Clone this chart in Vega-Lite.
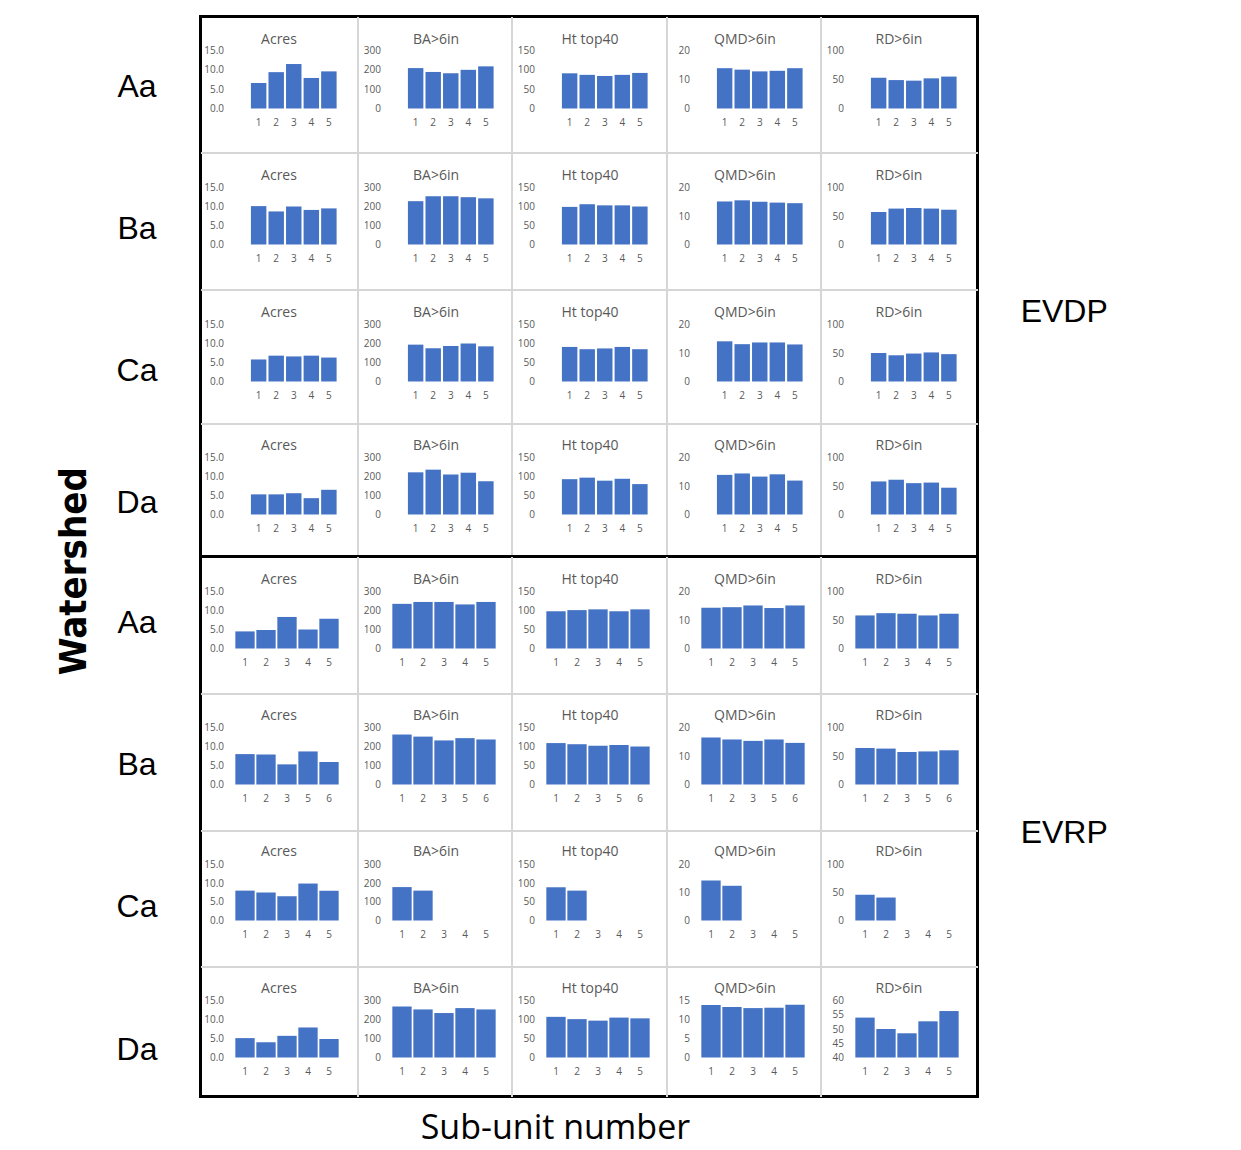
{
"$schema":"https://vega.github.io/schema/vega-lite/v6.json",
"padding":{"left":55.5,"top":11.5,"right":10,"bottom":3.5},
"datasets":{"d":[
{"g":"EVDP","w":"Aa","u":"1","Acres":6.6,"BA":209,"Ht":91,"QMD":13.9,"RD":53},
{"g":"EVDP","w":"Aa","u":"2","Acres":9.4,"BA":189,"Ht":87,"QMD":13.4,"RD":49},
{"g":"EVDP","w":"Aa","u":"3","Acres":11.5,"BA":182,"Ht":84,"QMD":12.8,"RD":48},
{"g":"EVDP","w":"Aa","u":"4","Acres":7.9,"BA":200,"Ht":87,"QMD":13.0,"RD":52},
{"g":"EVDP","w":"Aa","u":"5","Acres":9.6,"BA":218,"Ht":92,"QMD":13.9,"RD":55},
{"g":"EVDP","w":"Ba","u":"1","Acres":10.1,"BA":228,"Ht":99,"QMD":15.1,"RD":57},
{"g":"EVDP","w":"Ba","u":"2","Acres":8.7,"BA":254,"Ht":106,"QMD":15.5,"RD":63},
{"g":"EVDP","w":"Ba","u":"3","Acres":10.0,"BA":254,"Ht":103,"QMD":15.0,"RD":64},
{"g":"EVDP","w":"Ba","u":"4","Acres":9.1,"BA":249,"Ht":103,"QMD":14.7,"RD":63},
{"g":"EVDP","w":"Ba","u":"5","Acres":9.5,"BA":243,"Ht":100,"QMD":14.5,"RD":61},
{"g":"EVDP","w":"Ca","u":"1","Acres":5.8,"BA":194,"Ht":91,"QMD":14.1,"RD":50},
{"g":"EVDP","w":"Ca","u":"2","Acres":6.8,"BA":175,"Ht":85,"QMD":13.1,"RD":46},
{"g":"EVDP","w":"Ca","u":"3","Acres":6.6,"BA":187,"Ht":87,"QMD":13.7,"RD":49},
{"g":"EVDP","w":"Ca","u":"4","Acres":6.8,"BA":200,"Ht":91,"QMD":13.7,"RD":51},
{"g":"EVDP","w":"Ca","u":"5","Acres":6.3,"BA":185,"Ht":85,"QMD":13.0,"RD":48},
{"g":"EVDP","w":"Da","u":"1","Acres":5.3,"BA":222,"Ht":93,"QMD":13.9,"RD":58},
{"g":"EVDP","w":"Da","u":"2","Acres":5.3,"BA":236,"Ht":97,"QMD":14.4,"RD":61},
{"g":"EVDP","w":"Da","u":"3","Acres":5.6,"BA":210,"Ht":89,"QMD":13.3,"RD":55},
{"g":"EVDP","w":"Da","u":"4","Acres":4.3,"BA":220,"Ht":94,"QMD":14.1,"RD":56},
{"g":"EVDP","w":"Da","u":"5","Acres":6.5,"BA":175,"Ht":80,"QMD":11.9,"RD":47},
{"g":"EVRP","w":"Aa","u":"1","Acres":4.5,"BA":235,"Ht":98,"QMD":14.3,"RD":58},
{"g":"EVRP","w":"Aa","u":"2","Acres":4.9,"BA":245,"Ht":101,"QMD":14.5,"RD":62},
{"g":"EVRP","w":"Aa","u":"3","Acres":8.3,"BA":245,"Ht":103,"QMD":15.1,"RD":61},
{"g":"EVRP","w":"Aa","u":"4","Acres":5.0,"BA":232,"Ht":98,"QMD":14.2,"RD":58},
{"g":"EVRP","w":"Aa","u":"5","Acres":7.8,"BA":245,"Ht":103,"QMD":15.1,"RD":61},
{"g":"EVRP","w":"Ba","u":"1","Acres":8.0,"BA":263,"Ht":109,"QMD":16.5,"RD":64},
{"g":"EVRP","w":"Ba","u":"2","Acres":7.9,"BA":252,"Ht":106,"QMD":15.8,"RD":63},
{"g":"EVRP","w":"Ba","u":"3","Acres":5.3,"BA":232,"Ht":102,"QMD":15.3,"RD":57},
{"g":"EVRP","w":"Ba","u":"5","Acres":8.7,"BA":244,"Ht":104,"QMD":15.8,"RD":58},
{"g":"EVRP","w":"Ba","u":"6","Acres":5.9,"BA":237,"Ht":100,"QMD":14.6,"RD":60},
{"g":"EVRP","w":"Ca","u":"1","Acres":8.0,"BA":179,"Ht":89,"QMD":14.3,"RD":46},
{"g":"EVRP","w":"Ca","u":"2","Acres":7.5,"BA":160,"Ht":80,"QMD":12.4,"RD":41},
{"g":"EVRP","w":"Ca","u":"3","Acres":6.5,"BA":null,"Ht":null,"QMD":null,"RD":null},
{"g":"EVRP","w":"Ca","u":"4","Acres":9.9,"BA":null,"Ht":null,"QMD":null,"RD":null},
{"g":"EVRP","w":"Ca","u":"5","Acres":8.0,"BA":null,"Ht":null,"QMD":null,"RD":null},
{"g":"EVRP","w":"Da","u":"1","Acres":5.1,"BA":268,"Ht":107,"QMD":13.8,"RD":54.0},
{"g":"EVRP","w":"Da","u":"2","Acres":4.0,"BA":253,"Ht":101,"QMD":13.3,"RD":50.0},
{"g":"EVRP","w":"Da","u":"3","Acres":5.7,"BA":234,"Ht":97,"QMD":13.0,"RD":48.5},
{"g":"EVRP","w":"Da","u":"4","Acres":7.9,"BA":260,"Ht":105,"QMD":13.1,"RD":52.7},
{"g":"EVRP","w":"Da","u":"5","Acres":4.9,"BA":253,"Ht":103,"QMD":13.9,"RD":56.3}
]},
"data":{"name":"d"},
"title":{"text":"Sub-unit number","orient":"bottom","anchor":"middle","offset":14,"dx":-27,"font":"Open Sans","fontSize":34,"fontWeight":"normal","color":"#000"},
"vconcat":[{
"title":{"text":"Watershed","orient":"left","anchor":"middle","offset":21,"dx":-16,"font":"Liberation Sans Narrow, DejaVu Sans Condensed, sans-serif","fontSize":38,"fontWeight":"bold","color":"#000"},
"spacing":0,"bounds":"flush",
"vconcat":[
{"width":777,"height":540,
"title":{"text":"EVDP","orient":"right","anchor":"middle","angle":0,"align":"left","baseline":"middle","offset":48,"dx":-92,"dy":25,"font":"Liberation Sans","fontSize":32,"fontWeight":"normal","color":"#000"},
"resolve":{"scale":{"x":"independent","y":"independent"},"axis":{"x":"independent","y":"independent"}},
"layer":[
{"mark":{"type":"point","opacity":0},"encoding":{"x":{"datum":0,"type":"quantitative","scale":{"domain":[0,777],"range":[0,777],"nice":false,"zero":false},"axis":{"orient":"top","values":[157,311,466,620],"grid":true,"gridColor":"#d6d6d6","gridWidth":2,"labels":false,"title":null}},"y":{"datum":0,"type":"quantitative","scale":{"domain":[0,540],"range":[0,540],"nice":false,"zero":false},"axis":{"orient":"right","values":[136,273,407],"grid":true,"gridColor":"#d6d6d6","gridWidth":2,"labels":false,"title":null}}}},

{"transform":[{"filter":"datum.g==='EVDP'&&datum.w==='Aa'"}],"mark":"bar","encoding":{"x":{"field":"u","type":"ordinal","scale":{"domain":["1","2","3","4","5"],"range":[34,139],"paddingInner":0.12,"paddingOuter":0.55,"align":0.85},"axis":{"orient":"bottom","offset":-448,"title":"Acres","titleX":78}},"y":{"field":"Acres","type":"quantitative","scale":{"domain":[0,15],"range":[92,34],"nice":false},"axis":{"orient":"left","offset":-34,"values":[0,5,10,15],"format":".1f","title":"Aa","titleY":70}}}},
{"transform":[{"filter":"datum.g==='EVDP'&&datum.w==='Aa'"}],"mark":"bar","encoding":{"x":{"field":"u","type":"ordinal","scale":{"domain":["1","2","3","4","5"],"range":[191,296],"paddingInner":0.12,"paddingOuter":0.55,"align":0.85},"axis":{"orient":"bottom","offset":-448,"title":"BA>6in","titleX":235}},"y":{"field":"BA","type":"quantitative","scale":{"domain":[0,300],"range":[92,34],"nice":false},"axis":{"orient":"left","offset":-191,"values":[0,100,200,300],"title":null}}}},
{"transform":[{"filter":"datum.g==='EVDP'&&datum.w==='Aa'"}],"mark":"bar","encoding":{"x":{"field":"u","type":"ordinal","scale":{"domain":["1","2","3","4","5"],"range":[345,450],"paddingInner":0.12,"paddingOuter":0.55,"align":0.85},"axis":{"orient":"bottom","offset":-448,"title":"Ht top40","titleX":389}},"y":{"field":"Ht","type":"quantitative","scale":{"domain":[0,150],"range":[92,34],"nice":false},"axis":{"orient":"left","offset":-345,"values":[0,50,100,150],"title":null}}}},
{"transform":[{"filter":"datum.g==='EVDP'&&datum.w==='Aa'"}],"mark":"bar","encoding":{"x":{"field":"u","type":"ordinal","scale":{"domain":["1","2","3","4","5"],"range":[500,605],"paddingInner":0.12,"paddingOuter":0.55,"align":0.85},"axis":{"orient":"bottom","offset":-448,"title":"QMD>6in","titleX":544}},"y":{"field":"QMD","type":"quantitative","scale":{"domain":[0,20],"range":[92,34],"nice":false},"axis":{"orient":"left","offset":-500,"values":[0,10,20],"title":null}}}},
{"transform":[{"filter":"datum.g==='EVDP'&&datum.w==='Aa'"}],"mark":"bar","encoding":{"x":{"field":"u","type":"ordinal","scale":{"domain":["1","2","3","4","5"],"range":[654,759],"paddingInner":0.12,"paddingOuter":0.55,"align":0.85},"axis":{"orient":"bottom","offset":-448,"title":"RD>6in","titleX":698}},"y":{"field":"RD","type":"quantitative","scale":{"domain":[0,100],"range":[92,34],"nice":false},"axis":{"orient":"left","offset":-654,"values":[0,50,100],"title":null}}}},

{"transform":[{"filter":"datum.g==='EVDP'&&datum.w==='Ba'"}],"mark":"bar","encoding":{"x":{"field":"u","type":"ordinal","scale":{"domain":["1","2","3","4","5"],"range":[34,139],"paddingInner":0.12,"paddingOuter":0.55,"align":0.85},"axis":{"orient":"bottom","offset":-312,"title":"Acres","titleX":78}},"y":{"field":"Acres","type":"quantitative","scale":{"domain":[0,15],"range":[228,171],"nice":false},"axis":{"orient":"left","offset":-34,"values":[0,5,10,15],"format":".1f","title":"Ba","titleY":212}}}},
{"transform":[{"filter":"datum.g==='EVDP'&&datum.w==='Ba'"}],"mark":"bar","encoding":{"x":{"field":"u","type":"ordinal","scale":{"domain":["1","2","3","4","5"],"range":[191,296],"paddingInner":0.12,"paddingOuter":0.55,"align":0.85},"axis":{"orient":"bottom","offset":-312,"title":"BA>6in","titleX":235}},"y":{"field":"BA","type":"quantitative","scale":{"domain":[0,300],"range":[228,171],"nice":false},"axis":{"orient":"left","offset":-191,"values":[0,100,200,300],"title":null}}}},
{"transform":[{"filter":"datum.g==='EVDP'&&datum.w==='Ba'"}],"mark":"bar","encoding":{"x":{"field":"u","type":"ordinal","scale":{"domain":["1","2","3","4","5"],"range":[345,450],"paddingInner":0.12,"paddingOuter":0.55,"align":0.85},"axis":{"orient":"bottom","offset":-312,"title":"Ht top40","titleX":389}},"y":{"field":"Ht","type":"quantitative","scale":{"domain":[0,150],"range":[228,171],"nice":false},"axis":{"orient":"left","offset":-345,"values":[0,50,100,150],"title":null}}}},
{"transform":[{"filter":"datum.g==='EVDP'&&datum.w==='Ba'"}],"mark":"bar","encoding":{"x":{"field":"u","type":"ordinal","scale":{"domain":["1","2","3","4","5"],"range":[500,605],"paddingInner":0.12,"paddingOuter":0.55,"align":0.85},"axis":{"orient":"bottom","offset":-312,"title":"QMD>6in","titleX":544}},"y":{"field":"QMD","type":"quantitative","scale":{"domain":[0,20],"range":[228,171],"nice":false},"axis":{"orient":"left","offset":-500,"values":[0,10,20],"title":null}}}},
{"transform":[{"filter":"datum.g==='EVDP'&&datum.w==='Ba'"}],"mark":"bar","encoding":{"x":{"field":"u","type":"ordinal","scale":{"domain":["1","2","3","4","5"],"range":[654,759],"paddingInner":0.12,"paddingOuter":0.55,"align":0.85},"axis":{"orient":"bottom","offset":-312,"title":"RD>6in","titleX":698}},"y":{"field":"RD","type":"quantitative","scale":{"domain":[0,100],"range":[228,171],"nice":false},"axis":{"orient":"left","offset":-654,"values":[0,50,100],"title":null}}}},

{"transform":[{"filter":"datum.g==='EVDP'&&datum.w==='Ca'"}],"mark":"bar","encoding":{"x":{"field":"u","type":"ordinal","scale":{"domain":["1","2","3","4","5"],"range":[34,139],"paddingInner":0.12,"paddingOuter":0.55,"align":0.85},"axis":{"orient":"bottom","offset":-175,"title":"Acres","titleX":78}},"y":{"field":"Acres","type":"quantitative","scale":{"domain":[0,15],"range":[365,308],"nice":false},"axis":{"orient":"left","offset":-34,"values":[0,5,10,15],"format":".1f","title":"Ca","titleY":354}}}},
{"transform":[{"filter":"datum.g==='EVDP'&&datum.w==='Ca'"}],"mark":"bar","encoding":{"x":{"field":"u","type":"ordinal","scale":{"domain":["1","2","3","4","5"],"range":[191,296],"paddingInner":0.12,"paddingOuter":0.55,"align":0.85},"axis":{"orient":"bottom","offset":-175,"title":"BA>6in","titleX":235}},"y":{"field":"BA","type":"quantitative","scale":{"domain":[0,300],"range":[365,308],"nice":false},"axis":{"orient":"left","offset":-191,"values":[0,100,200,300],"title":null}}}},
{"transform":[{"filter":"datum.g==='EVDP'&&datum.w==='Ca'"}],"mark":"bar","encoding":{"x":{"field":"u","type":"ordinal","scale":{"domain":["1","2","3","4","5"],"range":[345,450],"paddingInner":0.12,"paddingOuter":0.55,"align":0.85},"axis":{"orient":"bottom","offset":-175,"title":"Ht top40","titleX":389}},"y":{"field":"Ht","type":"quantitative","scale":{"domain":[0,150],"range":[365,308],"nice":false},"axis":{"orient":"left","offset":-345,"values":[0,50,100,150],"title":null}}}},
{"transform":[{"filter":"datum.g==='EVDP'&&datum.w==='Ca'"}],"mark":"bar","encoding":{"x":{"field":"u","type":"ordinal","scale":{"domain":["1","2","3","4","5"],"range":[500,605],"paddingInner":0.12,"paddingOuter":0.55,"align":0.85},"axis":{"orient":"bottom","offset":-175,"title":"QMD>6in","titleX":544}},"y":{"field":"QMD","type":"quantitative","scale":{"domain":[0,20],"range":[365,308],"nice":false},"axis":{"orient":"left","offset":-500,"values":[0,10,20],"title":null}}}},
{"transform":[{"filter":"datum.g==='EVDP'&&datum.w==='Ca'"}],"mark":"bar","encoding":{"x":{"field":"u","type":"ordinal","scale":{"domain":["1","2","3","4","5"],"range":[654,759],"paddingInner":0.12,"paddingOuter":0.55,"align":0.85},"axis":{"orient":"bottom","offset":-175,"title":"RD>6in","titleX":698}},"y":{"field":"RD","type":"quantitative","scale":{"domain":[0,100],"range":[365,308],"nice":false},"axis":{"orient":"left","offset":-654,"values":[0,50,100],"title":null}}}},

{"transform":[{"filter":"datum.g==='EVDP'&&datum.w==='Da'"}],"mark":"bar","encoding":{"x":{"field":"u","type":"ordinal","scale":{"domain":["1","2","3","4","5"],"range":[34,139],"paddingInner":0.12,"paddingOuter":0.55,"align":0.85},"axis":{"orient":"bottom","offset":-42,"title":"Acres","titleX":78}},"y":{"field":"Acres","type":"quantitative","scale":{"domain":[0,15],"range":[498,441],"nice":false},"axis":{"orient":"left","offset":-34,"values":[0,5,10,15],"format":".1f","title":"Da","titleY":486}}}},
{"transform":[{"filter":"datum.g==='EVDP'&&datum.w==='Da'"}],"mark":"bar","encoding":{"x":{"field":"u","type":"ordinal","scale":{"domain":["1","2","3","4","5"],"range":[191,296],"paddingInner":0.12,"paddingOuter":0.55,"align":0.85},"axis":{"orient":"bottom","offset":-42,"title":"BA>6in","titleX":235}},"y":{"field":"BA","type":"quantitative","scale":{"domain":[0,300],"range":[498,441],"nice":false},"axis":{"orient":"left","offset":-191,"values":[0,100,200,300],"title":null}}}},
{"transform":[{"filter":"datum.g==='EVDP'&&datum.w==='Da'"}],"mark":"bar","encoding":{"x":{"field":"u","type":"ordinal","scale":{"domain":["1","2","3","4","5"],"range":[345,450],"paddingInner":0.12,"paddingOuter":0.55,"align":0.85},"axis":{"orient":"bottom","offset":-42,"title":"Ht top40","titleX":389}},"y":{"field":"Ht","type":"quantitative","scale":{"domain":[0,150],"range":[498,441],"nice":false},"axis":{"orient":"left","offset":-345,"values":[0,50,100,150],"title":null}}}},
{"transform":[{"filter":"datum.g==='EVDP'&&datum.w==='Da'"}],"mark":"bar","encoding":{"x":{"field":"u","type":"ordinal","scale":{"domain":["1","2","3","4","5"],"range":[500,605],"paddingInner":0.12,"paddingOuter":0.55,"align":0.85},"axis":{"orient":"bottom","offset":-42,"title":"QMD>6in","titleX":544}},"y":{"field":"QMD","type":"quantitative","scale":{"domain":[0,20],"range":[498,441],"nice":false},"axis":{"orient":"left","offset":-500,"values":[0,10,20],"title":null}}}},
{"transform":[{"filter":"datum.g==='EVDP'&&datum.w==='Da'"}],"mark":"bar","encoding":{"x":{"field":"u","type":"ordinal","scale":{"domain":["1","2","3","4","5"],"range":[654,759],"paddingInner":0.12,"paddingOuter":0.55,"align":0.85},"axis":{"orient":"bottom","offset":-42,"title":"RD>6in","titleX":698}},"y":{"field":"RD","type":"quantitative","scale":{"domain":[0,100],"range":[498,441],"nice":false},"axis":{"orient":"left","offset":-654,"values":[0,50,100],"title":null}}}}
]},
{"width":777,"height":540,
"title":{"text":"EVRP","orient":"right","anchor":"middle","angle":0,"align":"left","baseline":"middle","offset":48,"dx":-92,"dy":6,"font":"Liberation Sans","fontSize":32,"fontWeight":"normal","color":"#000"},
"resolve":{"scale":{"x":"independent","y":"independent"},"axis":{"x":"independent","y":"independent"}},
"layer":[
{"mark":{"type":"point","opacity":0},"encoding":{"x":{"datum":0,"type":"quantitative","scale":{"domain":[0,777],"range":[0,777],"nice":false,"zero":false},"axis":{"orient":"top","values":[157,311,466,620],"grid":true,"gridColor":"#d6d6d6","gridWidth":2,"labels":false,"title":null}},"y":{"datum":0,"type":"quantitative","scale":{"domain":[0,540],"range":[0,540],"nice":false,"zero":false},"axis":{"orient":"right","values":[137,274,410],"grid":true,"gridColor":"#d6d6d6","gridWidth":2,"labels":false,"title":null}}}},

{"transform":[{"filter":"datum.g==='EVRP'&&datum.w==='Aa'"}],"mark":"bar","encoding":{"x":{"field":"u","type":"ordinal","scale":{"domain":["1","2","3","4","5"],"range":[34,139],"paddingInner":0.08,"paddingOuter":0.04},"axis":{"orient":"bottom","offset":-448,"title":"Acres","titleX":78}},"y":{"field":"Acres","type":"quantitative","scale":{"domain":[0,15],"range":[92,35],"nice":false},"axis":{"orient":"left","offset":-34,"values":[0,5,10,15],"format":".1f","title":"Aa","titleY":66}}}},
{"transform":[{"filter":"datum.g==='EVRP'&&datum.w==='Aa'"}],"mark":"bar","encoding":{"x":{"field":"u","type":"ordinal","scale":{"domain":["1","2","3","4","5"],"range":[191,296],"paddingInner":0.08,"paddingOuter":0.04},"axis":{"orient":"bottom","offset":-448,"title":"BA>6in","titleX":235}},"y":{"field":"BA","type":"quantitative","scale":{"domain":[0,300],"range":[92,35],"nice":false},"axis":{"orient":"left","offset":-191,"values":[0,100,200,300],"title":null}}}},
{"transform":[{"filter":"datum.g==='EVRP'&&datum.w==='Aa'"}],"mark":"bar","encoding":{"x":{"field":"u","type":"ordinal","scale":{"domain":["1","2","3","4","5"],"range":[345,450],"paddingInner":0.08,"paddingOuter":0.04},"axis":{"orient":"bottom","offset":-448,"title":"Ht top40","titleX":389}},"y":{"field":"Ht","type":"quantitative","scale":{"domain":[0,150],"range":[92,35],"nice":false},"axis":{"orient":"left","offset":-345,"values":[0,50,100,150],"title":null}}}},
{"transform":[{"filter":"datum.g==='EVRP'&&datum.w==='Aa'"}],"mark":"bar","encoding":{"x":{"field":"u","type":"ordinal","scale":{"domain":["1","2","3","4","5"],"range":[500,605],"paddingInner":0.08,"paddingOuter":0.04},"axis":{"orient":"bottom","offset":-448,"title":"QMD>6in","titleX":544}},"y":{"field":"QMD","type":"quantitative","scale":{"domain":[0,20],"range":[92,35],"nice":false},"axis":{"orient":"left","offset":-500,"values":[0,10,20],"title":null}}}},
{"transform":[{"filter":"datum.g==='EVRP'&&datum.w==='Aa'"}],"mark":"bar","encoding":{"x":{"field":"u","type":"ordinal","scale":{"domain":["1","2","3","4","5"],"range":[654,759],"paddingInner":0.08,"paddingOuter":0.04},"axis":{"orient":"bottom","offset":-448,"title":"RD>6in","titleX":698}},"y":{"field":"RD","type":"quantitative","scale":{"domain":[0,100],"range":[92,35],"nice":false},"axis":{"orient":"left","offset":-654,"values":[0,50,100],"title":null}}}},

{"transform":[{"filter":"datum.g==='EVRP'&&datum.w==='Ba'"}],"mark":"bar","encoding":{"x":{"field":"u","type":"ordinal","scale":{"domain":["1","2","3","5","6"],"range":[34,139],"paddingInner":0.08,"paddingOuter":0.04},"axis":{"orient":"bottom","offset":-312,"title":"Acres","titleX":78}},"y":{"field":"Acres","type":"quantitative","scale":{"domain":[0,15],"range":[228,171],"nice":false},"axis":{"orient":"left","offset":-34,"values":[0,5,10,15],"format":".1f","title":"Ba","titleY":208}}}},
{"transform":[{"filter":"datum.g==='EVRP'&&datum.w==='Ba'"}],"mark":"bar","encoding":{"x":{"field":"u","type":"ordinal","scale":{"domain":["1","2","3","5","6"],"range":[191,296],"paddingInner":0.08,"paddingOuter":0.04},"axis":{"orient":"bottom","offset":-312,"title":"BA>6in","titleX":235}},"y":{"field":"BA","type":"quantitative","scale":{"domain":[0,300],"range":[228,171],"nice":false},"axis":{"orient":"left","offset":-191,"values":[0,100,200,300],"title":null}}}},
{"transform":[{"filter":"datum.g==='EVRP'&&datum.w==='Ba'"}],"mark":"bar","encoding":{"x":{"field":"u","type":"ordinal","scale":{"domain":["1","2","3","5","6"],"range":[345,450],"paddingInner":0.08,"paddingOuter":0.04},"axis":{"orient":"bottom","offset":-312,"title":"Ht top40","titleX":389}},"y":{"field":"Ht","type":"quantitative","scale":{"domain":[0,150],"range":[228,171],"nice":false},"axis":{"orient":"left","offset":-345,"values":[0,50,100,150],"title":null}}}},
{"transform":[{"filter":"datum.g==='EVRP'&&datum.w==='Ba'"}],"mark":"bar","encoding":{"x":{"field":"u","type":"ordinal","scale":{"domain":["1","2","3","5","6"],"range":[500,605],"paddingInner":0.08,"paddingOuter":0.04},"axis":{"orient":"bottom","offset":-312,"title":"QMD>6in","titleX":544}},"y":{"field":"QMD","type":"quantitative","scale":{"domain":[0,20],"range":[228,171],"nice":false},"axis":{"orient":"left","offset":-500,"values":[0,10,20],"title":null}}}},
{"transform":[{"filter":"datum.g==='EVRP'&&datum.w==='Ba'"}],"mark":"bar","encoding":{"x":{"field":"u","type":"ordinal","scale":{"domain":["1","2","3","5","6"],"range":[654,759],"paddingInner":0.08,"paddingOuter":0.04},"axis":{"orient":"bottom","offset":-312,"title":"RD>6in","titleX":698}},"y":{"field":"RD","type":"quantitative","scale":{"domain":[0,100],"range":[228,171],"nice":false},"axis":{"orient":"left","offset":-654,"values":[0,50,100],"title":null}}}},

{"transform":[{"filter":"datum.g==='EVRP'&&datum.w==='Ca'"}],"mark":"bar","encoding":{"x":{"field":"u","type":"ordinal","scale":{"domain":["1","2","3","4","5"],"range":[34,139],"paddingInner":0.08,"paddingOuter":0.04},"axis":{"orient":"bottom","offset":-176,"title":"Acres","titleX":78}},"y":{"field":"Acres","type":"quantitative","scale":{"domain":[0,15],"range":[364,308],"nice":false},"axis":{"orient":"left","offset":-34,"values":[0,5,10,15],"format":".1f","title":"Ca","titleY":350}}}},
{"transform":[{"filter":"datum.g==='EVRP'&&datum.w==='Ca'"}],"mark":"bar","encoding":{"x":{"field":"u","type":"ordinal","scale":{"domain":["1","2","3","4","5"],"range":[191,296],"paddingInner":0.08,"paddingOuter":0.04},"axis":{"orient":"bottom","offset":-176,"title":"BA>6in","titleX":235}},"y":{"field":"BA","type":"quantitative","scale":{"domain":[0,300],"range":[364,308],"nice":false},"axis":{"orient":"left","offset":-191,"values":[0,100,200,300],"title":null}}}},
{"transform":[{"filter":"datum.g==='EVRP'&&datum.w==='Ca'"}],"mark":"bar","encoding":{"x":{"field":"u","type":"ordinal","scale":{"domain":["1","2","3","4","5"],"range":[345,450],"paddingInner":0.08,"paddingOuter":0.04},"axis":{"orient":"bottom","offset":-176,"title":"Ht top40","titleX":389}},"y":{"field":"Ht","type":"quantitative","scale":{"domain":[0,150],"range":[364,308],"nice":false},"axis":{"orient":"left","offset":-345,"values":[0,50,100,150],"title":null}}}},
{"transform":[{"filter":"datum.g==='EVRP'&&datum.w==='Ca'"}],"mark":"bar","encoding":{"x":{"field":"u","type":"ordinal","scale":{"domain":["1","2","3","4","5"],"range":[500,605],"paddingInner":0.08,"paddingOuter":0.04},"axis":{"orient":"bottom","offset":-176,"title":"QMD>6in","titleX":544}},"y":{"field":"QMD","type":"quantitative","scale":{"domain":[0,20],"range":[364,308],"nice":false},"axis":{"orient":"left","offset":-500,"values":[0,10,20],"title":null}}}},
{"transform":[{"filter":"datum.g==='EVRP'&&datum.w==='Ca'"}],"mark":"bar","encoding":{"x":{"field":"u","type":"ordinal","scale":{"domain":["1","2","3","4","5"],"range":[654,759],"paddingInner":0.08,"paddingOuter":0.04},"axis":{"orient":"bottom","offset":-176,"title":"RD>6in","titleX":698}},"y":{"field":"RD","type":"quantitative","scale":{"domain":[0,100],"range":[364,308],"nice":false},"axis":{"orient":"left","offset":-654,"values":[0,50,100],"title":null}}}},

{"transform":[{"filter":"datum.g==='EVRP'&&datum.w==='Da'"}],"mark":"bar","encoding":{"x":{"field":"u","type":"ordinal","scale":{"domain":["1","2","3","4","5"],"range":[34,139],"paddingInner":0.08,"paddingOuter":0.04},"axis":{"orient":"bottom","offset":-39,"title":"Acres","titleX":78}},"y":{"field":"Acres","type":"quantitative","scale":{"domain":[0,15],"range":[501,444],"nice":false},"axis":{"orient":"left","offset":-34,"values":[0,5,10,15],"format":".1f","title":"Da","titleY":493}}}},
{"transform":[{"filter":"datum.g==='EVRP'&&datum.w==='Da'"}],"mark":"bar","encoding":{"x":{"field":"u","type":"ordinal","scale":{"domain":["1","2","3","4","5"],"range":[191,296],"paddingInner":0.08,"paddingOuter":0.04},"axis":{"orient":"bottom","offset":-39,"title":"BA>6in","titleX":235}},"y":{"field":"BA","type":"quantitative","scale":{"domain":[0,300],"range":[501,444],"nice":false},"axis":{"orient":"left","offset":-191,"values":[0,100,200,300],"title":null}}}},
{"transform":[{"filter":"datum.g==='EVRP'&&datum.w==='Da'"}],"mark":"bar","encoding":{"x":{"field":"u","type":"ordinal","scale":{"domain":["1","2","3","4","5"],"range":[345,450],"paddingInner":0.08,"paddingOuter":0.04},"axis":{"orient":"bottom","offset":-39,"title":"Ht top40","titleX":389}},"y":{"field":"Ht","type":"quantitative","scale":{"domain":[0,150],"range":[501,444],"nice":false},"axis":{"orient":"left","offset":-345,"values":[0,50,100,150],"title":null}}}},
{"transform":[{"filter":"datum.g==='EVRP'&&datum.w==='Da'"}],"mark":"bar","encoding":{"x":{"field":"u","type":"ordinal","scale":{"domain":["1","2","3","4","5"],"range":[500,605],"paddingInner":0.08,"paddingOuter":0.04},"axis":{"orient":"bottom","offset":-39,"title":"QMD>6in","titleX":544}},"y":{"field":"QMD","type":"quantitative","scale":{"domain":[0,15],"range":[501,444],"nice":false},"axis":{"orient":"left","offset":-500,"values":[0,5,10,15],"title":null}}}},
{"transform":[{"filter":"datum.g==='EVRP'&&datum.w==='Da'"}],"mark":"bar","encoding":{"x":{"field":"u","type":"ordinal","scale":{"domain":["1","2","3","4","5"],"range":[654,759],"paddingInner":0.08,"paddingOuter":0.04},"axis":{"orient":"bottom","offset":-39,"title":"RD>6in","titleX":698}},"y":{"field":"RD","type":"quantitative","scale":{"domain":[40,60],"range":[501,444],"nice":false,"zero":false,"clamp":true},"axis":{"orient":"left","offset":-654,"values":[40,45,50,55,60],"title":null}},"y2":{"datum":40}}}
]}
]}],
"config":{
"view":{"stroke":"#000","strokeWidth":3},
"font":"Open Sans",
"bar":{"color":"#4472C4"},
"axis":{"labelFont":"Open Sans","labelFontSize":10,"labelColor":"#595959","ticks":false,"tickSize":0,"domain":false,"gridColor":"#d9d9d9","gridWidth":1,"labelOverlap":false},
"axisX":{"labelPadding":9,"labelAngle":0,"titleY":-69,"titleBaseline":"middle","titleAlign":"center","titleFont":"Open Sans","titleFontSize":14,"titleFontWeight":"normal","titleColor":"#595959"},
"axisY":{"labelPadding":11,"titleAngle":0,"titleX":-98,"titleAlign":"center","titleBaseline":"middle","titleFont":"Liberation Sans","titleFontSize":32,"titleFontWeight":"normal","titleColor":"#000"}
}
}
